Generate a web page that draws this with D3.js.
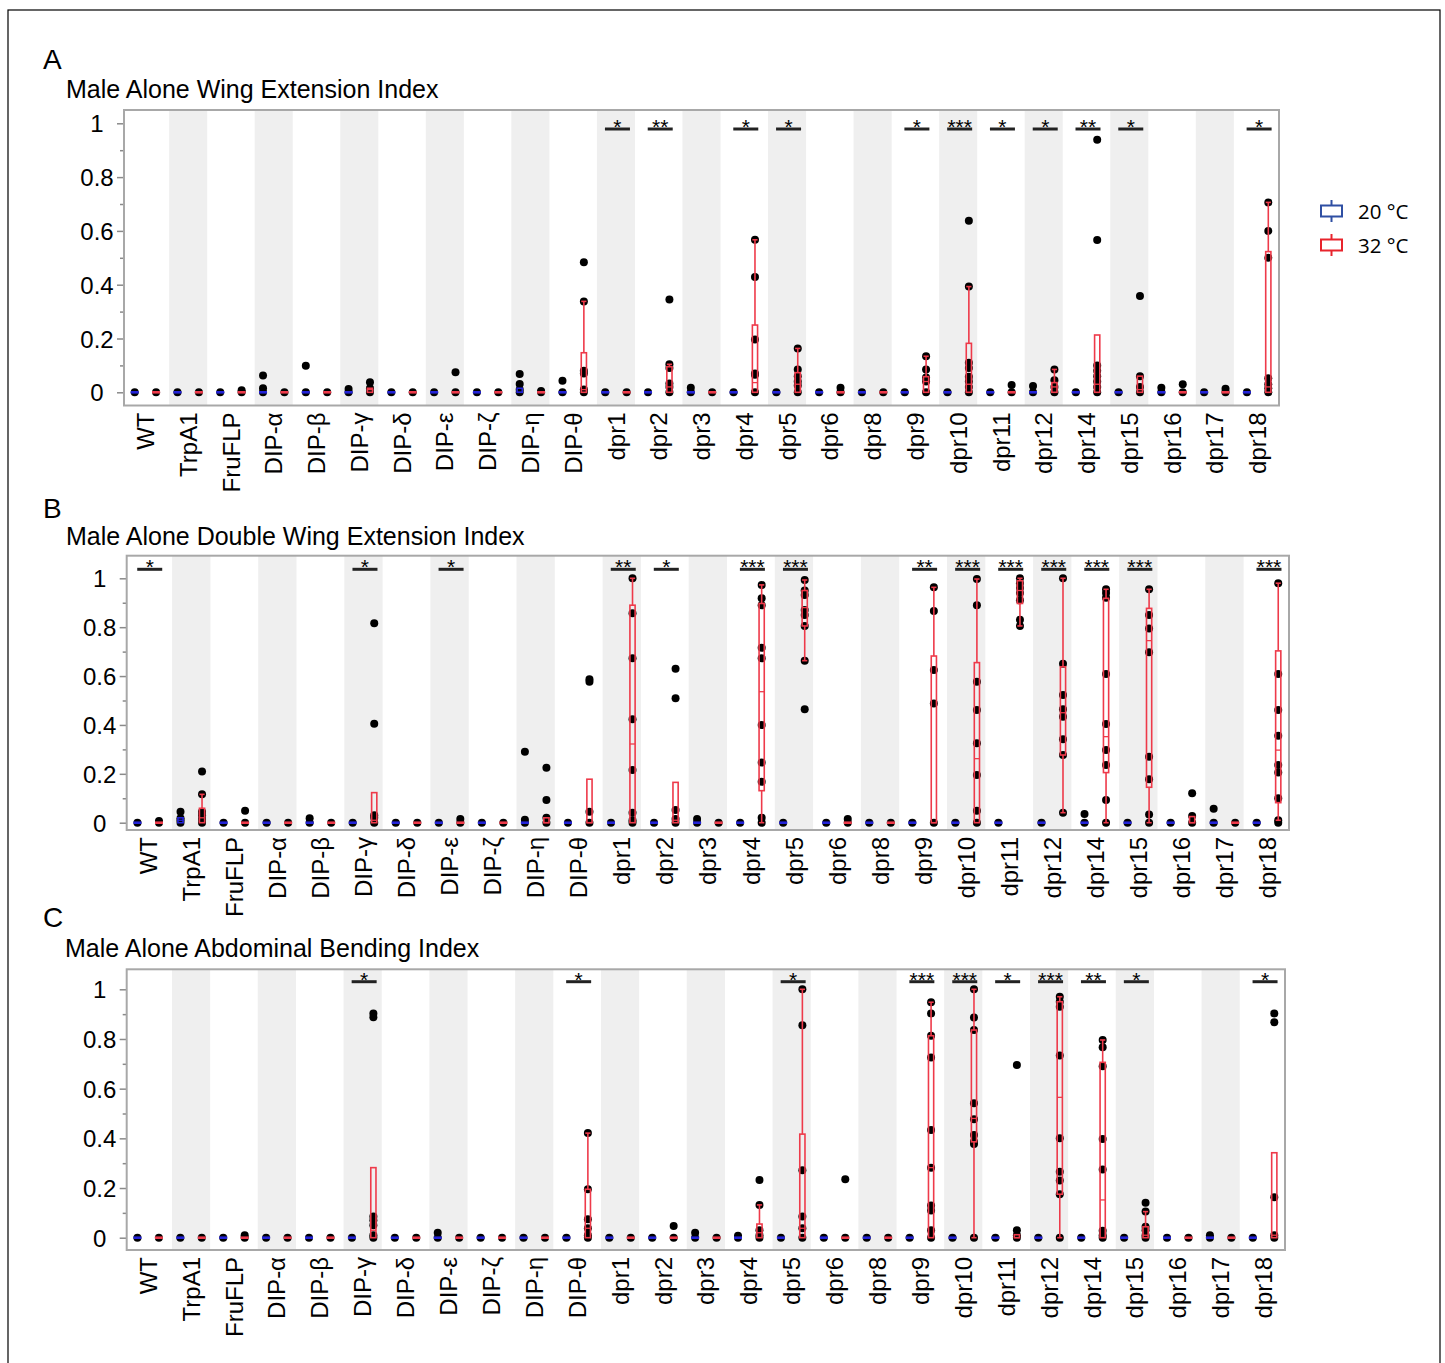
<!DOCTYPE html>
<html>
<head>
<meta charset="utf-8">
<script src="https://cdn.jsdelivr.net/npm/d3@7"></script>
<style>
  body { margin: 0; background: #fff; }
  svg { display: block; font-family: "Liberation Sans", Arial, sans-serif; }
</style>
</head>
<body>
<div id="chart"></div>
<script>
// ---- data ----
const categories = ['WT', 'TrpA1', 'FruFLP', 'DIP-α', 'DIP-β', 'DIP-γ', 'DIP-δ', 'DIP-ε', 'DIP-ζ', 'DIP-η', 'DIP-θ',
  'dpr1', 'dpr2', 'dpr3', 'dpr4', 'dpr5', 'dpr6', 'dpr8', 'dpr9', 'dpr10', 'dpr11', 'dpr12', 'dpr14', 'dpr15',
  'dpr16', 'dpr17', 'dpr18'];
const temps = ['20 °C', '32 °C'];
const yTicks = [0, 0.2, 0.4, 0.6, 0.8, 1];
const yMinorTicks = [0.1, 0.3, 0.5, 0.7, 0.9];

// A: wing extension index, points per genotype
const wingPts20 = [[0], [0], [0], [0.062, 0.015, 0], [0.099, 0], [0.012, 0], [0], [0], [0], [0.068, 0.031, 0.01, 0],
  [0.043, 0], [0], [0], [0.017, 0], [0], [0], [0], [0], [0], [0], [0], [0.023, 0], [0], [0], [0.017, 0], [0], [0]];
const wingPts32 = [[0], [0], [0.008, 0], [0], [0], [0.037, 0.015, 0], [0], [0.075, 0], [0], [0.005, 0],
  [0.483, 0.338, 0.08, 0.07, 0.01, 0], [0], [0.345, 0.104, 0.09, 0.033, 0.02, 0], [0],
  [0.567, 0.429, 0.196, 0.07, 0.065, 0], [0.163, 0.085, 0.06, 0.04, 0.025, 0], [0.017, 0], [0],
  [0.134, 0.085, 0.055, 0.04, 0], [0.638, 0.393, 0.11, 0.09, 0.058, 0.04, 0.02, 0], [0.027, 0],
  [0.085, 0.045, 0.02, 0], [0.939, 0.566, 0.1, 0.08, 0.06, 0.04, 0.02, 0], [0.358, 0.06, 0.02, 0], [0.03, 0],
  [0.013, 0], [0.706, 0.6, 0.5, 0.052, 0.03, 0.015, 0]];
// box stats [low whisker, q1, median, q3, high whisker]; null = everything at 0
const wingBox20 = [null, null, null, null, null, null, null, null, null, [0, 0, 0, 0.015, 0.015], null,
  null, null, null, null, null, null, null, null, null, null, null, null, null, null, null, null];
const wingBox32 = [null, null, null, null, null, [0, 0, 0.01, 0.015, 0.015], null, null, null, null,
  [0, 0, 0.01, 0.147, 0.338], null, [0, 0, 0.02, 0.095, 0.104], null, [0, 0, 0.036, 0.25, 0.567],
  [0, 0, 0.03, 0.073, 0.163], null, null, [0, 0, 0.04, 0.058, 0.134], [0, 0, 0.03, 0.182, 0.393], null,
  [0, 0, 0.02, 0.036, 0.085], [0, 0, 0.03, 0.213, 0.213], [0, 0, 0.01, 0.06, 0.06], null, null,
  [0, 0, 0.02, 0.523, 0.706]];
const wingSig = ['', '', '', '', '', '', '', '', '', '', '', '*', '**', '', '*', '*', '', '', '*', '***', '*', '*',
  '**', '*', '', '', '*'];

// B: double wing extension index
const doublePts20 = [[0], [0.045, 0.018, 0.01, 0], [0], [0], [0.018, 0], [0], [0], [0], [0], [0.29, 0.012, 0],
  [0], [0], [0], [0.015, 0], [0], [0], [0], [0], [0], [0], [0], [0], [0.036, 0], [0], [0], [0.057, 0], [0]];
const doublePts32 = [[0.007, 0], [0.21, 0.116, 0.045, 0.03, 0.015, 0], [0.049, 0], [0], [0],
  [0.816, 0.405, 0.03, 0.02, 0], [0], [0.015, 0], [0], [0.225, 0.093, 0.02, 0], [0.587, 0.577, 0.045, 0],
  [1.0, 0.857, 0.673, 0.423, 0.216, 0.041, 0.01, 0], [0.63, 0.509, 0.052, 0.015, 0], [0],
  [0.973, 0.918, 0.89, 0.716, 0.673, 0.4, 0.246, 0.168, 0.02, 0],
  [0.993, 0.95, 0.932, 0.87, 0.85, 0.805, 0.663, 0.464], [0.015, 0], [0], [0.963, 0.866, 0.625, 0.488, 0],
  [0.997, 0.89, 0.577, 0.461, 0.325, 0.195, 0.049, 0], [1.0, 0.98, 0.96, 0.94, 0.91, 0.83, 0.805],
  [1.0, 0.65, 0.522, 0.464, 0.434, 0.341, 0.277, 0.041], [0.955, 0.94, 0.92, 0.608, 0.404, 0.297, 0.236, 0.093, 0],
  [0.955, 0.85, 0.795, 0.697, 0.27, 0.178, 0.034, 0], [0.12, 0.027, 0], [0],
  [0.98, 0.608, 0.461, 0.356, 0.236, 0.205, 0.1, 0.01, 0]];
const doubleBox20 = [null, [0, 0, 0.01, 0.02, 0.02], null, null, null, null, null, null, null, null, null,
  null, null, null, null, null, null, null, null, null, null, null, null, null, null, null, null];
const doubleBox32 = [null, [0, 0, 0.02, 0.059, 0.116], null, null, null, [0, 0, 0.01, 0.123, 0.123], null, null,
  null, [0, 0, 0, 0.02, 0.02], [0, 0, 0, 0.178, 0.178], [0, 0, 0.322, 0.89, 1.0], [0, 0, 0.01, 0.165, 0.165], null,
  [0, 0.131, 0.536, 0.897, 0.973], [0.663, 0.805, 0.88, 0.95, 0.993], null, null, [0, 0, 0, 0.682, 0.963],
  [0, 0, 0.262, 0.655, 0.997], [0.805, 0.897, 0.95, 0.99, 1.0], [0.041, 0.277, 0.45, 0.638, 1.0],
  [0, 0.205, 0.352, 0.918, 0.955], [0, 0.145, 0.745, 0.877, 0.955], [0, 0, 0, 0.025, 0.027], null,
  [0.01, 0.082, 0.297, 0.703, 0.98]];
const doubleSig = ['*', '', '', '', '', '*', '', '*', '', '', '', '**', '*', '', '***', '***', '', '', '**', '***',
  '***', '***', '***', '***', '', '', '***'];

// C: abdominal bending index
const abdPts20 = [[0], [0], [0], [0], [0], [0], [0], [0.02, 0], [0], [0], [0], [0], [0], [0.02, 0], [0.008, 0],
  [0], [0], [0], [0], [0], [0], [0], [0], [0], [0], [0.01, 0], [0]];
const abdPts32 = [[0], [0], [0.01, 0], [0], [0], [0.903, 0.887, 0.085, 0.07, 0.05, 0.01, 0], [0], [0], [0], [0],
  [0.421, 0.195, 0.074, 0.038, 0.01, 0], [0], [0.047, 0], [0], [0.232, 0.132, 0.03, 0.01, 0],
  [1.0, 0.855, 0.272, 0.085, 0.038, 0], [0.235, 0], [0],
  [0.948, 0.903, 0.813, 0.725, 0.434, 0.282, 0.13, 0.11, 0.03, 0],
  [1.0, 0.886, 0.836, 0.541, 0.477, 0.413, 0.386, 0.377, 0], [0.695, 0.03, 0.01, 0],
  [0.97, 0.95, 0.93, 0.733, 0.4, 0.266, 0.23, 0.175, 0], [0.796, 0.767, 0.69, 0.397, 0.275, 0.028, 0.01, 0],
  [0.141, 0.105, 0.044, 0.03, 0.01, 0], [0], [0], [0.903, 0.867, 0.163, 0.01, 0]];
const abdBox20 = [null, null, null, null, null, null, null, null, null, null, null,
  null, null, null, null, null, null, null, null, null, null, null, null, null, null, null, null];
const abdBox32 = [null, null, null, null, null, [0, 0, 0.03, 0.282, 0.282], null, null, null, null,
  [0, 0, 0.038, 0.195, 0.421], null, null, null, [0, 0, 0.02, 0.055, 0.132], [0, 0, 0.038, 0.417, 1.0], null, null,
  [0, 0, 0.282, 0.813, 0.948], [0, 0.386, 0.48, 0.836, 1.0], [0, 0, 0, 0.012, 0.012], [0, 0.175, 0.565, 0.95, 0.97],
  [0, 0, 0.152, 0.706, 0.796], [0, 0, 0.01, 0.044, 0.105], null, null, [0, 0, 0.01, 0.342, 0.342]];
const abdSig = ['', '', '', '', '', '*', '', '', '', '', '*', '', '', '', '', '*', '', '', '***', '***', '*', '***',
  '**', '*', '', '', '*'];

// ---- drawing ----
const W = 1445, H = 1363;
const boxColor = ['#2323d8', '#ee3a4a'];
const legendColor = ['#2f4fa3', '#e8242c'];

const svg = d3.select('#chart').append('svg')
  .attr('width', W)
  .attr('height', H);

// outer figure border
svg.append('rect')
  .attr('x', 8).attr('y', 10)
  .attr('width', 1432).attr('height', 1380)
  .attr('fill', 'none')
  .attr('stroke', '#000')
  .attr('stroke-width', 1.2);

const panels = [
  {letter: 'A', title: 'Male Alone Wing Extension Index', pts: [wingPts20, wingPts32], box: [wingBox20, wingBox32],
    sig: wingSig, left: 124, right: 1279, top: 110, bottom: 405.5, y0: 392.3, y1: 123.3, sigOff: 19,
    letterY: 69, titleX: 66, titleY: 98},
  {letter: 'B', title: 'Male Alone Double Wing Extension Index', pts: [doublePts20, doublePts32],
    box: [doubleBox20, doubleBox32], sig: doubleSig, left: 126.7, right: 1289, top: 555.7, bottom: 830,
    y0: 822.7, y1: 578.3, sigOff: 13.6, letterY: 518, titleX: 66, titleY: 545},
  {letter: 'C', title: 'Male Alone Abdominal Bending Index', pts: [abdPts20, abdPts32], box: [abdBox20, abdBox32],
    sig: abdSig, left: 126.7, right: 1285, top: 969.3, bottom: 1250, y0: 1237.7, y1: 989.3, sigOff: 12.4,
    letterY: 927, titleX: 65, titleY: 957}
];

panels.forEach(drawPanel);
drawLegend();

function drawPanel(p) {
  const g = svg.append('g');

  const x = d3.scaleBand().domain(categories).range([p.left, p.right]);
  const sub = d3.scalePoint().domain(temps).range([0, x.bandwidth()]).padding(0.5);
  const y = d3.scaleLinear().domain([0, 1]).range([p.y0, p.y1]);

  g.append('text')
    .attr('x', 43).attr('y', p.letterY)
    .attr('font-size', 28)
    .text(p.letter);

  g.append('text')
    .attr('x', p.titleX).attr('y', p.titleY)
    .attr('font-size', 25)
    .text(p.title);

  // alternating shading
  const bw = x.bandwidth() * 0.89;
  g.selectAll('rect.band')
    .data(categories.filter((c, i) => i % 2 === 1))
    .enter().append('rect')
    .attr('class', 'band')
    .attr('x', d => x(d) + (x.bandwidth() - bw) / 2)
    .attr('y', p.top)
    .attr('width', bw)
    .attr('height', p.bottom - p.top)
    .attr('fill', '#efefef');

  // y axis, major and minor ticks
  const ya = d3.axisLeft(y).tickValues(yTicks).tickSize(7).tickPadding(0)
    .tickFormat(d => String(+d.toFixed(1)));
  const axisG = g.append('g')
    .attr('transform', 'translate(' + p.left + ',0)')
    .call(ya);
  axisG.select('.domain').remove();
  axisG.selectAll('line').attr('stroke', '#8a8a8a').attr('stroke-width', 1.5);
  axisG.selectAll('text')
    .attr('x', -27)
    .attr('text-anchor', 'middle')
    .attr('dy', '0.36em')
    .attr('font-size', 24)
    .attr('font-family', '"Liberation Sans", Arial, sans-serif')
    .attr('fill', '#000');

  const minor = g.append('g')
    .attr('transform', 'translate(' + p.left + ',0)')
    .call(d3.axisLeft(y).tickValues(yMinorTicks).tickSize(4).tickFormat(''));
  minor.select('.domain').remove();
  minor.selectAll('line').attr('stroke', '#8a8a8a').attr('stroke-width', 1.5);

  // x labels
  const xa = d3.axisBottom(x).tickSize(0).tickPadding(0);
  const xg = g.append('g')
    .attr('transform', 'translate(0,' + p.bottom + ')')
    .call(xa);
  xg.select('.domain').remove();
  xg.selectAll('text')
    .attr('transform', 'translate(0,7) rotate(-90)')
    .attr('x', 0).attr('y', 0)
    .attr('dy', '0.36em')
    .attr('text-anchor', 'end')
    .attr('font-size', 24)
    .attr('font-family', '"Liberation Sans", Arial, sans-serif')
    .attr('fill', '#000');

  // points then boxes for each temperature
  temps.forEach((t, ti) => {
    const dots = [];
    p.pts[ti].forEach((vals, ci) => vals.forEach(v => dots.push({c: categories[ci], v: v})));
    g.append('g').selectAll('circle')
      .data(dots)
      .enter().append('circle')
      .attr('cx', d => x(d.c) + sub(t))
      .attr('cy', d => y(d.v))
      .attr('r', 4)
      .attr('fill', '#000');
  });

  temps.forEach((t, ti) => {
    const bg = g.append('g');
    categories.forEach((c, ci) => {
      const b = p.box[ti][ci] || [0, 0, 0, 0, 0];
      const cx = x(c) + sub(t);
      const col = boxColor[ti];
      const top = y(b[3]), bot = y(b[1]);
      if (bot - top < 2) {
        bg.append('line')
          .attr('x1', cx - 4).attr('x2', cx + 4)
          .attr('y1', y(b[2])).attr('y2', y(b[2]))
          .attr('stroke', col).attr('stroke-width', 2.6);
      } else {
        bg.append('rect')
          .attr('x', cx - 2.6).attr('y', top)
          .attr('width', 5.2).attr('height', bot - top)
          .attr('fill', 'none').attr('stroke', col).attr('stroke-width', 1.6);
        bg.append('line')
          .attr('x1', cx - 2.6).attr('x2', cx + 2.6)
          .attr('y1', y(b[2])).attr('y2', y(b[2]))
          .attr('stroke', col).attr('stroke-width', 1.3);
      }
      [[b[3], b[4]], [b[1], b[0]]].forEach(w => {
        if (Math.abs(y(w[1]) - y(w[0])) < 1) return;
        bg.append('line')
          .attr('x1', cx).attr('x2', cx)
          .attr('y1', y(w[0])).attr('y2', y(w[1]))
          .attr('stroke', col).attr('stroke-width', 1.6);
        bg.append('line')
          .attr('x1', cx - 2.6).attr('x2', cx + 2.6)
          .attr('y1', y(w[1])).attr('y2', y(w[1]))
          .attr('stroke', col).attr('stroke-width', 1.6);
      });
    });
  });

  // significance marks
  const sigs = categories.map((c, i) => ({c: c, s: p.sig[i]})).filter(d => d.s);
  const barY = p.top + p.sigOff;
  g.append('g').selectAll('line')
    .data(sigs)
    .enter().append('line')
    .attr('x1', d => x(d.c) + x.bandwidth() / 2 - 11)
    .attr('x2', d => x(d.c) + x.bandwidth() / 2 + 14)
    .attr('y1', barY).attr('y2', barY)
    .attr('stroke', '#222')
    .attr('stroke-width', 3);
  g.append('g').selectAll('text')
    .data(sigs)
    .enter().append('text')
    .attr('x', d => x(d.c) + x.bandwidth() / 2 + 1.5)
    .attr('y', barY + 5)
    .attr('text-anchor', 'middle')
    .attr('font-size', 21)
    .text(d => d.s);

  // plot frame
  g.append('rect')
    .attr('x', p.left).attr('y', p.top)
    .attr('width', p.right - p.left)
    .attr('height', p.bottom - p.top)
    .attr('fill', 'none')
    .attr('stroke', '#a8a8a8')
    .attr('stroke-width', 2);
}

function drawLegend() {
  const lg = svg.append('g');
  temps.forEach((t, i) => {
    const cy = 211 + i * 34;
    lg.append('rect')
      .attr('x', 1321).attr('y', cy - 5.5)
      .attr('width', 21).attr('height', 11)
      .attr('fill', 'none')
      .attr('stroke', legendColor[i])
      .attr('stroke-width', 2);
    lg.append('line')
      .attr('x1', 1331.5).attr('x2', 1331.5)
      .attr('y1', cy - 11).attr('y2', cy - 5.5)
      .attr('stroke', legendColor[i]).attr('stroke-width', 2);
    lg.append('line')
      .attr('x1', 1331.5).attr('x2', 1331.5)
      .attr('y1', cy + 5.5).attr('y2', cy + 11)
      .attr('stroke', legendColor[i]).attr('stroke-width', 2);
    lg.append('text')
      .attr('x', 1358).attr('y', cy + 7.5)
      .attr('font-family', '"Open Sans", sans-serif')
      .attr('font-size', 20.5)
      .text(t);
  });
}
</script>
</body>
</html>
